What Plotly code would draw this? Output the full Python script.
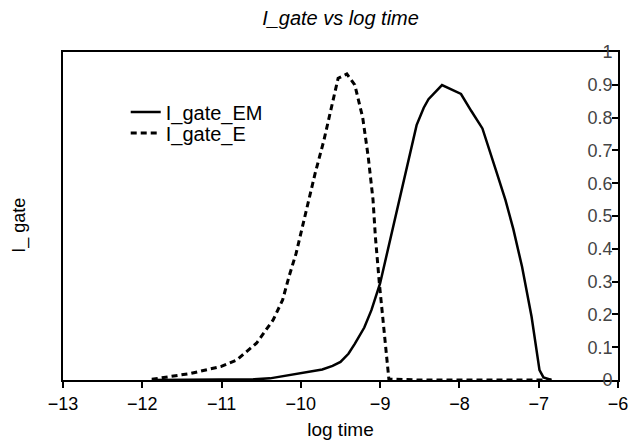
import plotly.graph_objects as go

# Data
em_x = [-11.88, -11.5, -11.0, -10.6, -10.39, -10.15, -10.02, -9.85, -9.73, -9.6, -9.5,
        -9.4, -9.32, -9.2, -9.11, -9.0, -8.89, -8.8, -8.7, -8.6, -8.54, -8.45, -8.39,
        -8.22, -7.98, -7.85, -7.71, -7.54, -7.42, -7.32, -7.21, -7.09, -6.99, -6.94, -6.84]
em_y = [0, 0.0005, 0.001, 0.002, 0.005, 0.015, 0.022, 0.027, 0.032, 0.043, 0.055,
        0.08, 0.11, 0.16, 0.213, 0.295, 0.41, 0.5, 0.61, 0.71, 0.777, 0.83, 0.856,
        0.899, 0.872, 0.82, 0.767, 0.64, 0.549, 0.46, 0.345, 0.193, 0.03, 0.008, 0]

e_x = [-11.88, -11.67, -11.39, -11.01, -10.81, -10.56, -10.35, -10.23, -10.15, -10.06,
       -10.0, -9.92, -9.82, -9.71, -9.61, -9.53, -9.42, -9.32, -9.22, -9.15, -9.09,
       -9.06, -9.01, -8.97, -8.93, -8.89, -8.5, -8.0, -7.5, -7.0, -6.84]
e_y = [0.002, 0.01, 0.02, 0.041, 0.061, 0.112, 0.183, 0.244, 0.315, 0.386,
       0.447, 0.53, 0.63, 0.73, 0.833, 0.92, 0.933, 0.9, 0.8, 0.68, 0.55,
       0.437, 0.295, 0.193, 0.09, 0.003, 0, 0, 0, 0, 0]

x_ticks = [-13, -12, -11, -10, -9, -8, -7, -6]
y_ticks = [0, 0.1, 0.2, 0.3, 0.4, 0.5, 0.6, 0.7, 0.8, 0.9, 1]

FONT = "Liberation Sans, Arial, sans-serif"

fig = go.Figure()
fig.add_trace(go.Scatter(x=em_x, y=em_y, mode="lines", name="I_gate_EM",
                         legend="legend",
                         line=dict(color="black", width=2.5)))
fig.add_trace(go.Scatter(x=e_x, y=e_y, mode="lines", name="I_gate_E",
                         legend="legend2",
                         line=dict(color="black", width=3, dash="6px,4px")))

leg_common = dict(xanchor="left", yanchor="middle", bgcolor="rgba(0,0,0,0)",
                  font=dict(size=20), borderwidth=0)

fig.update_layout(
    width=636, height=445,
    margin=dict(l=63, r=8, t=52, b=65),
    paper_bgcolor="white", plot_bgcolor="white",
    font=dict(family=FONT, size=18, color="black"),
    title=dict(text="<i>I_gate vs log time</i>", x=0.5, xref="paper",
               y=1 - 18 / 445, yref="container", yanchor="middle",
               font=dict(size=20)),
    showlegend=True,
    legend=dict(x=0.113, y=(380 - 112) / 328, **leg_common),
    legend2=dict(x=0.113, y=(380 - 133) / 328, **leg_common),
    xaxis=dict(range=[-13, -6], tickvals=x_ticks, ticks="outside", ticklen=6,
               tickwidth=1.5, tickcolor="black", ticklabeloverflow="allow",
               showline=True, linecolor="black", linewidth=2, mirror=True,
               showgrid=False, zeroline=False,
               title=dict(text="log time", standoff=10, font=dict(size=19)),
               tickfont=dict(size=18)),
    yaxis=dict(range=[0, 1], tickvals=y_ticks, side="right", ticks="inside",
               ticklen=6, tickwidth=1.5, tickcolor="black",
               ticklabelposition="inside", ticklabeloverflow="allow",
               showline=True, linecolor="black", linewidth=2, mirror=True,
               showgrid=False, zeroline=False, tickfont=dict(size=18)),
)

fig.add_annotation(text="I_ gate", xref="paper", yref="paper",
                   x=(18 - 63) / 565, y=(380 - 225) / 328,
                   xanchor="center", yanchor="middle",
                   textangle=-90, showarrow=False, font=dict(size=18))

fig.write_html("out.html")
